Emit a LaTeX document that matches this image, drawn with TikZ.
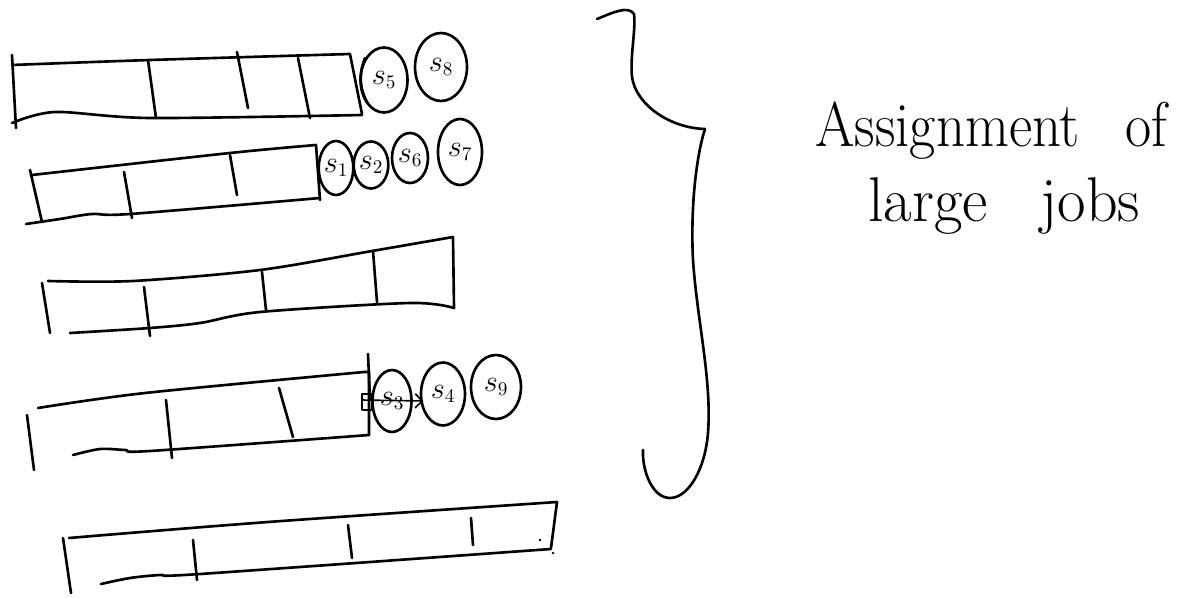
\documentclass[tikz,border=0pt]{standalone}
\usepackage{graphicx}
\usetikzlibrary{shapes.geometric,arrows.meta}
\begin{document}
\begin{tikzpicture}[x=0.02cm,y=-0.02cm,
  pen/.style={line width=1.5pt,line cap=round,line join=round},
  jobb/.style={pen,draw,ellipse,inner sep=0pt,font=\fontsize{16}{16}\selectfont},
  note/.style={font=\fontsize{36}{40}\selectfont,inner sep=0pt,anchor=base west}]
\useasboundingbox (0,0) rectangle (1180,598);

% machine 1
\draw[pen] (12,55) -- (16,128);
\draw[pen] plot[smooth,tension=0.5] coordinates {(12,65) (150,60) (350,54)} -- (362,114);
\draw[pen] plot[smooth,tension=0.5] coordinates {(12,123) (55,112) (150,118) (362,115)};
\draw[pen] (148,60) -- (156,118);
\draw[pen] (237,52) -- (248,108);
\draw[pen] (298,58) -- (310,118);
\draw[pen] (365,58) to[bend right=25] (368,104);
\node[jobb,minimum width=0.94cm,minimum height=1.3cm] (s5) at (384,80) {$s_5$};
\node[jobb,minimum width=1.04cm,minimum height=1.36cm] (s8) at (441,67) {$s_8$};

% machine 2
\draw[pen] (30,170) -- (42,222);
\draw[pen] plot[smooth,tension=0.5] coordinates {(32,175) (230,153) (316,145)} -- (320,200);
\draw[pen] plot[smooth,tension=0.5] coordinates {(26,224) (60,219) (92,214) (130,214) (320,198)};
\draw[pen] (124,172) -- (132,218);
\draw[pen] (230,155) -- (237,195);
\node[jobb,minimum width=0.5cm,minimum height=1.08cm] (s1) at (336,168) {$s_1$};
\node[jobb,minimum width=0.64cm,minimum height=0.94cm] (s2) at (371,165) {$s_2$};
\node[jobb,minimum width=0.72cm,minimum height=1.0cm] (s6) at (410,158) {$s_6$};
\node[jobb,minimum width=0.88cm,minimum height=1.32cm] (s7) at (460,152) {$s_7$};

% machine 3
\draw[pen] (42,283) -- (50,333);
\draw[pen] plot[smooth,tension=0.5] coordinates {(48,281) (133,281) (260,270) (372,251) (453,237)} -- (454,308);
\draw[pen] plot[smooth,tension=0.5] coordinates {(70,333) (150,328) (200,323) (260,312) (410,303) (454,308)};
\draw[pen] (144,287) -- (150,336);
\draw[pen] (262,272) -- (266,310);
\draw[pen] (373,251) -- (377,302);

% machine 4
\draw[pen] (27,415) -- (34,470);
\draw[pen] plot[smooth,tension=0.5] coordinates {(38,408) (145,393) (364,372)} -- (369,372) -- (369,435);
\draw[pen] plot[smooth,tension=0.5] coordinates {(73,455) (100,449) (125,450) (150,451) (369,435)};
\draw[pen] (166,400) -- (172,458);
\draw[pen] (279,388) -- (293,437);
\draw[pen] (368,354) -- (370,400);
\coordinate (m4) at (362,400);
\node[jobb,minimum width=0.78cm,minimum height=1.24cm] (s3) at (392,401) {$s_3$};
\node[jobb,minimum width=0.88cm,minimum height=1.26cm] (s4) at (443,394) {$s_4$};
\node[jobb,minimum width=1.0cm,minimum height=1.28cm] (s9) at (496,387) {$s_9$};
\draw[pen,line width=0.8pt] (362,394) rectangle (372,410);
\draw[pen,line width=0.9pt,-{Straight Barb[length=4pt]}] (m4) -- ([xshift=6]s3.east);

% machine 5
\draw[pen] (63,538) -- (71,593);
\draw[pen] plot[smooth,tension=0.5] coordinates {(69,538) (268,522) (557,502)} -- (551,548);
\draw[pen] plot[smooth,tension=0.5] coordinates {(101,584) (130,578) (160,575) (200,574) (551,549)};
\draw[pen] (193,540) -- (197,580);
\draw[pen] (348,525) -- (352,558);
\draw[pen] (471,518) -- (473,545);
\fill (540,540) circle (0.8pt);
\fill (553,553) circle (0.8pt);

% brace grouping the large jobs
\draw[pen] (597,19) .. controls (612,13) and (628,5) .. (634,14)
  .. controls (636,30) and (630,55) .. (632,77)
  .. controls (636,105) and (670,128) .. (705,129)
  .. controls (698,150) and (690,200) .. (693,260)
  .. controls (697,320) and (712,380) .. (708,433)
  .. controls (705,470) and (688,498) .. (670,498)
  .. controls (652,498) and (642,470) .. (643,450);

\node[note] (title1) at (815,147) {\scalebox{0.9}[1]{Assignment\hspace{0.8em}of}};
\node[note] (title2) at (868,221) {\scalebox{0.98}[1]{large\hspace{0.85em}jobs}};
\end{tikzpicture}
\end{document}
